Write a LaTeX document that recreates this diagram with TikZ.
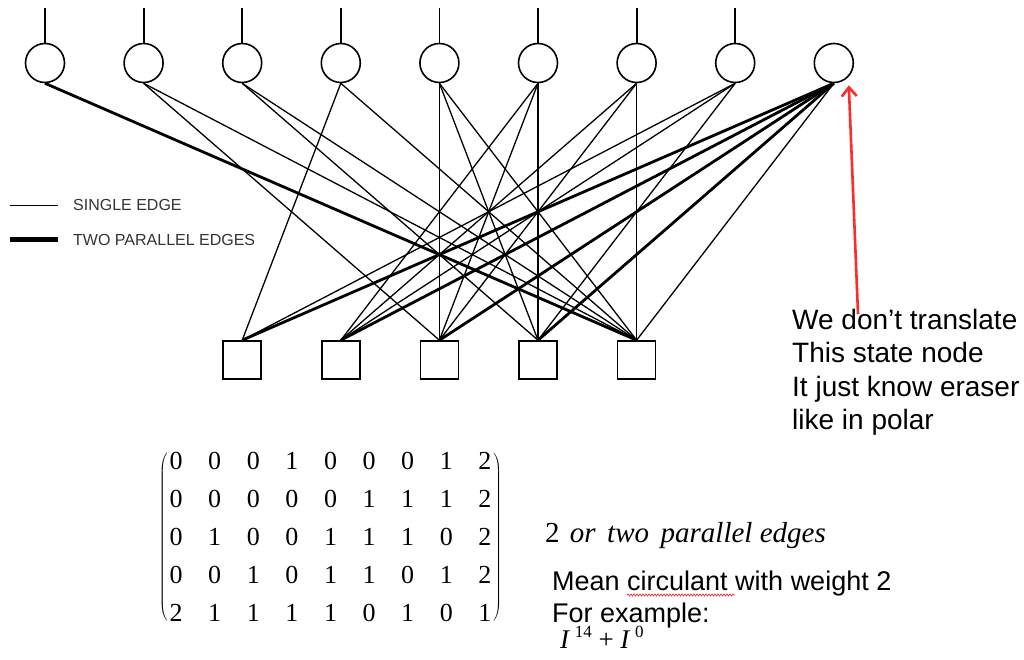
\documentclass[tikz,border=0pt]{standalone}
\usepackage{fontspec}
\setmainfont{Liberation Serif}
\setsansfont{Liberation Sans}
\usetikzlibrary{calc}
\usetikzlibrary{matrix}
\usetikzlibrary{arrows.meta}
\usetikzlibrary{decorations.pathmorphing}
\definecolor{NoteRed}{HTML}{FF2A2A}
\definecolor{LegendGray}{HTML}{333333}

\begin{document}
\begin{tikzpicture}[x=1pt,y=-1pt]
    \tikzstyle{v}=[shape=circle,draw,line width=1.6pt,minimum size=39pt,inner sep=0pt]
    \tikzstyle{c}=[shape=rectangle,draw,line width=1.6pt,minimum size=38pt,inner sep=0pt]
    \tikzstyle{e}=[line width=1.3pt]
    \tikzstyle{ee}=[line width=2.8pt]
    \tikzstyle{big}=[font=\sffamily\fontsize{28}{33.5}\selectfont,inner sep=0pt]

    \useasboundingbox (0,0) rectangle (1024,660);

    % variable nodes
    \coordinate (var_1_c) at (45,63);
    \node[v] (var_1) at (var_1_c) {};
    \coordinate (var_2_c) at ($(var_1_c) + (98.6,0)$);
    \node[v] (var_2) at (var_2_c) {};
    \coordinate (var_3_c) at ($(var_2_c) + (98.6,0)$);
    \node[v] (var_3) at (var_3_c) {};
    \coordinate (var_4_c) at ($(var_3_c) + (98.6,0)$);
    \node[v] (var_4) at (var_4_c) {};
    \coordinate (var_5_c) at ($(var_4_c) + (98.6,0)$);
    \node[v] (var_5) at (var_5_c) {};
    \coordinate (var_6_c) at ($(var_5_c) + (98.6,0)$);
    \node[v] (var_6) at (var_6_c) {};
    \coordinate (var_7_c) at ($(var_6_c) + (98.6,0)$);
    \node[v] (var_7) at (var_7_c) {};
    \coordinate (var_8_c) at ($(var_7_c) + (98.6,0)$);
    \node[v] (var_8) at (var_8_c) {};
    \coordinate (var_9_c) at ($(var_8_c) + (98.6,0)$);
    \node[v] (var_9) at (var_9_c) {};

    % channel inputs on top (not on the last one)
    \coordinate (in_1) at ($(var_1_c) + (0,-55)$);
    \coordinate (in_2) at ($(var_2_c) + (0,-55)$);
    \coordinate (in_3) at ($(var_3_c) + (0,-55)$);
    \coordinate (in_4) at ($(var_4_c) + (0,-55)$);
    \coordinate (in_5) at ($(var_5_c) + (0,-55)$);
    \coordinate (in_6) at ($(var_6_c) + (0,-55)$);
    \coordinate (in_7) at ($(var_7_c) + (0,-55)$);
    \coordinate (in_8) at ($(var_8_c) + (0,-55)$);
    \draw[line width=1.8pt] (var_1) -- (in_1);
    \draw[line width=1.8pt] (var_2) -- (in_2);
    \draw[line width=1.8pt] (var_3) -- (in_3);
    \draw[line width=1.8pt] (var_4) -- (in_4);
    \draw[line width=1.8pt] (var_5) -- (in_5);
    \draw[line width=1.8pt] (var_6) -- (in_6);
    \draw[line width=1.8pt] (var_7) -- (in_7);
    \draw[line width=1.8pt] (var_8) -- (in_8);

    % check nodes
    \coordinate (chk_1_c) at ($(var_3_c) + (0,297)$);
    \node[c] (chk_1) at (chk_1_c) {};
    \coordinate (chk_2_c) at ($(chk_1_c) + (98.6,0)$);
    \node[c] (chk_2) at (chk_2_c) {};
    \coordinate (chk_3_c) at ($(chk_2_c) + (98.6,0)$);
    \node[c] (chk_3) at (chk_3_c) {};
    \coordinate (chk_4_c) at ($(chk_3_c) + (98.6,0)$);
    \node[c] (chk_4) at (chk_4_c) {};
    \coordinate (chk_5_c) at ($(chk_4_c) + (98.6,0)$);
    \node[c] (chk_5) at (chk_5_c) {};

    % row 1
    \draw[e] (var_4.south) -- (chk_1.north);
    \draw[e] (var_8.south) -- (chk_1.north);
    \draw[ee] (var_9.south) -- (chk_1.north);
    % row 2
    \draw[e] (var_6.south) -- (chk_2.north);
    \draw[e] (var_7.south) -- (chk_2.north);
    \draw[e] (var_8.south) -- (chk_2.north);
    \draw[ee] (var_9.south) -- (chk_2.north);
    % row 3
    \draw[e] (var_2.south) -- (chk_3.north);
    \draw[e] (var_5.south) -- (chk_3.north);
    \draw[e] (var_6.south) -- (chk_3.north);
    \draw[e] (var_7.south) -- (chk_3.north);
    \draw[ee] (var_9.south) -- (chk_3.north);
    % row 4
    \draw[e] (var_3.south) -- (chk_4.north);
    \draw[e] (var_5.south) -- (chk_4.north);
    \draw[e] (var_6.south) -- (chk_4.north);
    \draw[e] (var_8.south) -- (chk_4.north);
    \draw[ee] (var_9.south) -- (chk_4.north);
    % row 5
    \draw[ee] (var_1.south) -- (chk_5.north);
    \draw[e] (var_2.south) -- (chk_5.north);
    \draw[e] (var_3.south) -- (chk_5.north);
    \draw[e] (var_4.south) -- (chk_5.north);
    \draw[e] (var_5.south) -- (chk_5.north);
    \draw[e] (var_7.south) -- (chk_5.north);
    \draw[e] (var_9.south) -- (chk_5.north);

    % legend
    \node[anchor=base west,inner sep=0pt,text=LegendGray,font=\sffamily\fontsize{16}{16}\selectfont] (single) at (73,210.7) {SINGLE EDGE};
    \node[anchor=base west,inner sep=0pt,text=LegendGray,font=\sffamily\fontsize{16}{16}\selectfont] (double) at (73,245) {TWO PARALLEL EDGES};
    \coordinate (single_l) at ($(single.west) + (-63,0)$);
    \coordinate (single_r) at ($(single.west) + (-15,0)$);
    \coordinate (double_l) at ($(double.west) + (-63,0)$);
    \coordinate (double_r) at ($(double.west) + (-15,0)$);
    \draw[e] (single_l) -- (single_r);
    \draw[line width=4.5pt] (double_l) -- (double_r);

    % note on the last variable node
    \node[big,anchor=base west,align=left] (note) at (792,429.5) {We don’t translate\\This state node\\It just know eraser\\like in polar};
    \coordinate (arrow_start) at (858,314);
    \coordinate (arrow_tip) at ($(var_9.south) + (15,2)$);
    \draw[NoteRed,line width=2.6pt,-{Straight Barb[length=9pt,width=15pt]}] (arrow_start) -- (arrow_tip);

    % parity check matrix
    \matrix (H) [matrix of nodes,left delimiter=(,right delimiter=),inner sep=0pt,
        every delimiter/.style={inner xsep=0pt},
        column sep=24.6pt,row sep=17.8pt,
        nodes={minimum width=14pt,minimum height=20pt,inner sep=0pt,font=\fontsize{26}{26}\selectfont}] at (330.5,537) {
        0 & 0 & 0 & 1 & 0 & 0 & 0 & 1 & 2 \\
        0 & 0 & 0 & 0 & 0 & 1 & 1 & 1 & 2 \\
        0 & 1 & 0 & 0 & 1 & 1 & 1 & 0 & 2 \\
        0 & 0 & 1 & 0 & 1 & 1 & 0 & 1 & 2 \\
        2 & 1 & 1 & 1 & 1 & 0 & 1 & 0 & 1 \\
    };

    % explanation
    \node[anchor=base west,inner sep=0pt,font=\fontsize{29}{29}\selectfont] (two) at (545,542) {2\hspace{0.35em}\textit{or\hspace{0.4em}two\hspace{0.4em}parallel edges}};
    \node[anchor=base west,inner sep=0pt,align=left,font=\sffamily\fontsize{27}{32}\selectfont] (mean) at (552,622) {Mean circulant with weight 2\\For example:};
    \coordinate (wave_l) at ($(mean.base west) + (75,-27)$);
    \coordinate (wave_r) at ($(mean.base west) + (183,-27)$);
    \draw[NoteRed,line width=0.7pt,decorate,decoration={snake,amplitude=1pt,segment length=3pt}] (wave_l) -- (wave_r);
    \node[anchor=base west,inner sep=0pt,font=\fontsize{27}{27}\selectfont] (example) at (560,648) {\textit{I}\,\raisebox{0.4em}{\fontsize{17}{17}\selectfont 14}\ +\ \textit{I}\,\raisebox{0.4em}{\fontsize{17}{17}\selectfont 0}};

\end{tikzpicture}
\end{document}
